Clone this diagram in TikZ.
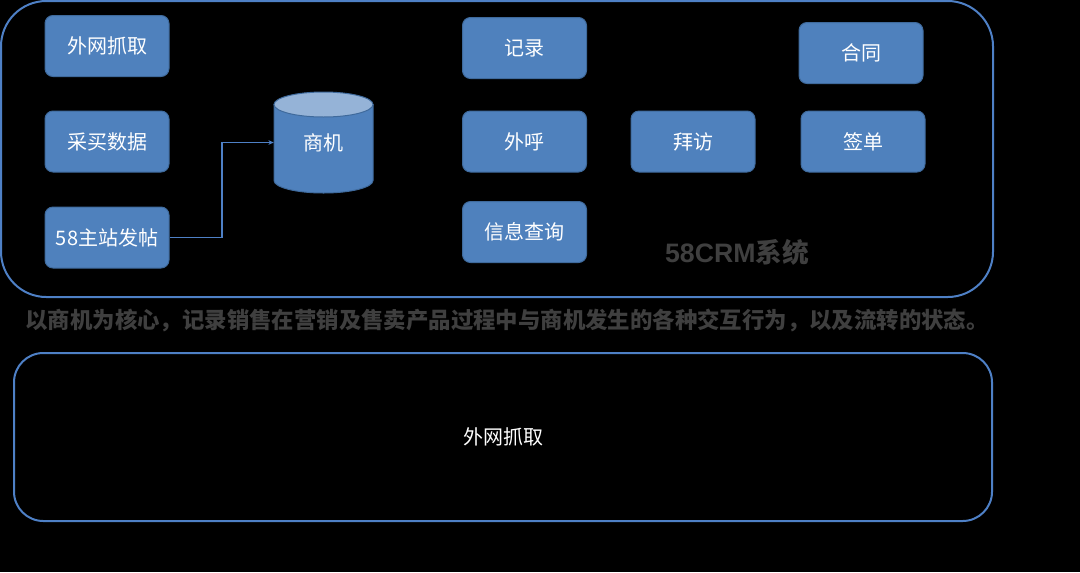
\documentclass[tikz,border=0pt]{standalone}
\usepackage{fontspec}
\setmainfont{Noto Sans CJK SC}
\newfontfamily\latinsans{Liberation Sans}
\usetikzlibrary{arrows.meta}
\definecolor{boxfill}{HTML}{4F81BD}
\definecolor{boxline}{HTML}{3F6A9C}
\definecolor{frameline}{HTML}{4E80C6}
\definecolor{cyltop}{HTML}{95B3D7}
\definecolor{graytext}{HTML}{3F3F3F}
\tikzset{
  bluebox/.style={draw=boxline, fill=boxfill, line width=0.75pt, rounded corners=6pt,
    minimum width=93pt, minimum height=45.75pt, inner sep=0pt, text=white,
    font=\fontsize{15}{18}\selectfont},
  frame/.style={draw=frameline, line width=1.5pt},
  conn/.style={draw=frameline, line width=1pt, -{Stealth[length=4pt,width=3.5pt]}},
}
\begin{document}
\begin{tikzpicture}[x=0.75pt,y=-0.75pt]
\fill[black] (0,0) rectangle (1080,572);
\useasboundingbox (0,0) rectangle (1080,572);
% frames
\draw[frame, rounded corners=34pt] (1,1) rectangle (993,297);
\draw[frame, rounded corners=22pt] (14,353) rectangle (992,521);
% left boxes
\node[bluebox] (b1) at (107,46) {外网抓取};
\node[bluebox] (b2) at (107,141.5) {采买数据};
\node[bluebox] (b3) at (107,237.5) {58主站发帖};
% cylinder
\draw[boxline, fill=boxfill, line width=0.75pt] (274,104.5) -- (274,180.5) arc[start angle=180, end angle=0, x radius=49.5, y radius=12.5] -- (373,104.5) -- cycle;
\draw[boxline, fill=cyltop, line width=0.75pt] (323.5,104.5) ellipse [x radius=49.5, y radius=12.5];
\node[inner sep=0pt, minimum width=74.25pt, minimum height=57pt, text=white,
  font=\fontsize{15}{18}\selectfont] (sj) at (323.5,142.5) {商机};
% middle boxes
\node[bluebox] (r1) at (524.5,48) {记录};
\node[bluebox] (r2) at (524.5,141.5) {外呼};
\node[bluebox] (r3) at (524.5,232) {信息查询};
\node[bluebox] (bf) at (693,141.5) {拜访};
\node[bluebox] (ht) at (861,53) {合同};
\node[bluebox] (qd) at (863,141.5) {签单};
% connector
\draw[conn] (b3.east) -| (222,142.5) -- (sj.west);
% texts
\node[text=graytext, font=\bfseries\fontsize{20}{24}\selectfont, inner sep=0pt] (title) at (737,252) {{\latinsans\bfseries 58CRM}系统};
\node[text=graytext, font=\bfseries\fontsize{16.8}{20}\selectfont, inner sep=0pt] (cap) at (507,320) {以商机为核心，记录销售在营销及售卖产品过程中与商机发生的各种交互行为，以及流转的状态。};
\node[text=white, font=\fontsize{15}{18}\selectfont, inner sep=0pt] (lower) at (503,437) {外网抓取};
\end{tikzpicture}
\end{document}
